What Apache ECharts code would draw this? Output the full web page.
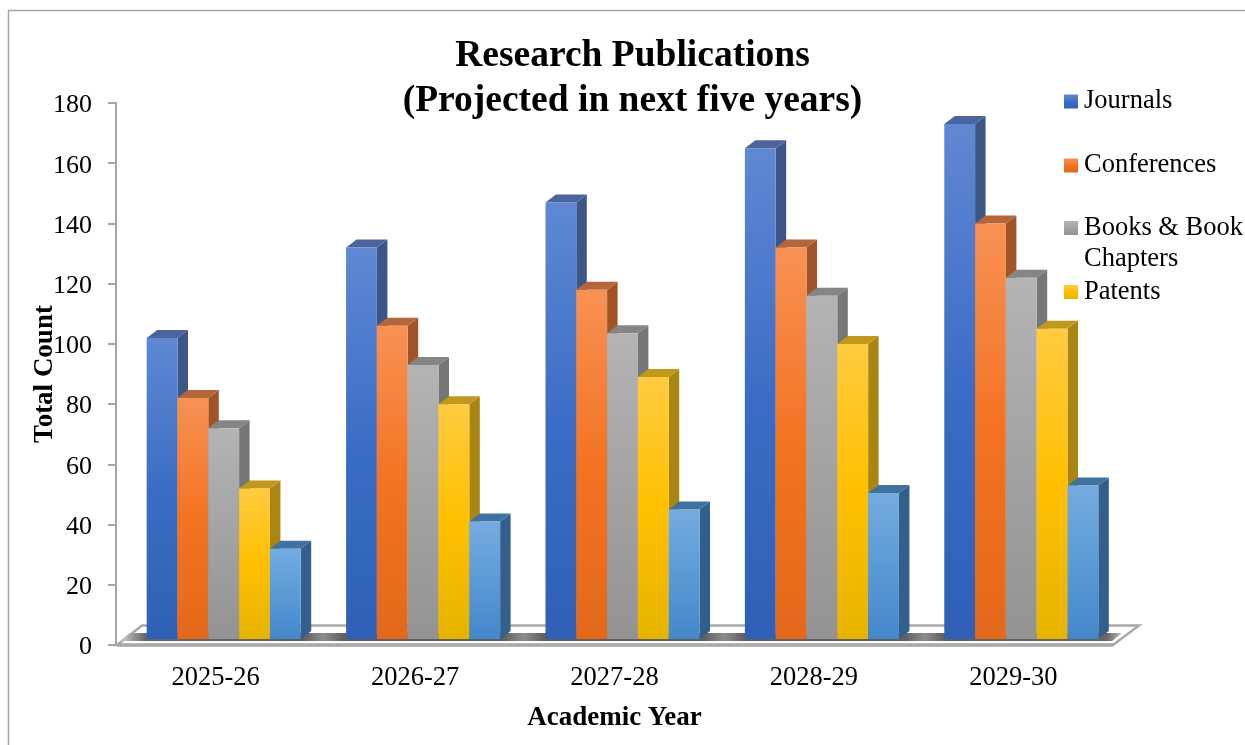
<!DOCTYPE html>
<html><head><meta charset="utf-8">
<style>html,body{margin:0;padding:0;background:#fff}#c{width:1245px;height:745px}</style>
<script src="https://cdn.jsdelivr.net/npm/echarts@6/dist/echarts.min.js"></script>
</head><body><div id="c"></div>
<script>
const categories = ['2025-26','2026-27','2027-28','2028-29','2029-30'];
const journals = [100,130,145,163,171];
const conferences = [80,104,116,130,138];
const books = [70,91,101.5,114,120];
const patents = [50,78,87,98,103];
const others = [30,39,43,48.5,51];
const yTicks = {min:0,max:180,interval:20};

const FONT = '"Liberation Serif","Times New Roman",serif';
const palettes = [
 {name:'Journals',data:journals,g:['#6088D2','#3C6DC6','#2F60B6'],side:'#3C5688',top:'#4A659E'},
 {name:'Conferences',data:conferences,g:['#F89155','#F37321','#E2691A'],side:'#A05428',top:'#B5653A'},
 {name:'Books & Book Chapters',data:books,g:['#B4B4B4','#A3A3A3','#939393'],side:'#767676',top:'#858585'},
 {name:'Patents',data:patents,g:['#FFCB40','#FFC000','#E6B400'],side:'#A98612',top:'#C0981C'},
 {name:'Others',data:others,g:['#75ABE0','#5B9BD5','#4487CA'],side:'#335F8C',top:'#40719F'}
];
const grad = c => new echarts.graphic.LinearGradient(0,0,0,1,[{offset:0,color:c[0]},{offset:.5,color:c[1]},{offset:1,color:c[2]}]);
const DX=10.5, DY=8, LIFT=6, SHIFT=8;

const shadowStops=[{offset:0,color:'#cfcfcf'},{offset:.025,color:'#666'}];
[1,2,3,4].forEach(k=>{
 const c=k*.2+.003;
 shadowStops.push({offset:c-.02,color:'#5f5f5f'},{offset:c,color:'#8c8c8c'},{offset:c+.02,color:'#5f5f5f'});
});
shadowStops.push({offset:.985,color:'#666'},{offset:1,color:'#bdbdbd'});

const floorSeries = {
 type:'custom',name:'floor',silent:true,z:1,coordinateSystem:'cartesian2d',clip:false,
 legendHoverLink:false,data:[[0,0]],
 renderItem(p,api){
  const r=p.coordSys,L=r.x,R=r.x+r.width,B=r.y+r.height;
  return {type:'group',children:[
   {type:'polygon',shape:{points:[[L+1,B],[L+26,B-19.5],[R+26,B-19.5],[R,B]]},style:{fill:'#fff',stroke:'#a9a9a9',lineWidth:2.5}},
   {type:'polygon',shape:{points:[[L+4,B-4],[L+14,B-12],[R+9,B-12],[R-1,B-4]]},style:{fill:new echarts.graphic.LinearGradient(0,0,1,0,shadowStops)}},
   {type:'line',shape:{x1:L+1,y1:B,x2:R,y2:B},style:{stroke:'#a9a9a9',lineWidth:3.5}}
  ]};
 }
};
const barSeries = palettes.map((s,i)=>({
 type:'custom',name:s.name,z:2,clip:false,coordinateSystem:'cartesian2d',
 itemStyle:{color:grad(s.g)},encode:{x:0,y:1},
 data:s.data.map((v,k)=>[categories[k],v]),
 renderItem(p,api){
  const top=api.coord([api.value(0),api.value(1)]);
  const base=api.coord([api.value(0),0]);
  const w=api.size([1,0])[0]*0.1545;
  const x0=top[0]+SHIFT+(i-2.5)*w,x1=x0+w,y0=top[1]-LIFT,y1=base[1]-LIFT;
  return {type:'group',children:[
   {type:'polygon',shape:{points:[[x1,y0],[x1+DX,y0-DY],[x1+DX,y1-DY],[x1,y1]]},style:{fill:s.side}},
   {type:'polygon',shape:{points:[[x0,y0],[x0+DX,y0-DY],[x1+DX,y0-DY],[x1,y0]]},style:{fill:s.top}},
   {type:'rect',shape:{x:x0,y:y0,width:w,height:y1-y0},style:{fill:grad(s.g)}}
  ]};
 }
}));
const legendAt=(name,top)=>({show:true,orient:'vertical',left:1059,top,data:[name],icon:'rect',itemWidth:14,itemHeight:14,selectedMode:false,
 textStyle:{fontFamily:FONT,fontSize:26.5,color:'#000',padding:[0,0,0,1]},
 formatter:n=>n==='Books & Book Chapters'?'Books & Book':n});

const chart=echarts.init(document.getElementById('c'),null,{renderer:'canvas'});
chart.setOption({
 animation:false,backgroundColor:'#fff',
 title:{text:'Research Publications\n(Projected in next five years)',left:627.5,top:29,textAlign:'center',
  textStyle:{fontFamily:FONT,fontSize:37.5,fontWeight:'bold',color:'#000',lineHeight:45}},
 grid:{left:116,right:132,top:103,bottom:100,outerBoundsMode:'none'},
 xAxis:{type:'category',data:categories,name:'Academic Year',nameLocation:'middle',nameGap:60,nameMoveOverlap:false,
  nameTextStyle:{fontFamily:FONT,fontSize:27,fontWeight:'bold',color:'#000'},
  axisLine:{show:false},axisTick:{show:false},
  axisLabel:{fontFamily:FONT,fontSize:26.5,color:'#000',margin:20}},
 yAxis:{type:'value',min:yTicks.min,max:yTicks.max,interval:yTicks.interval,name:'Total Count',nameLocation:'middle',nameGap:57,nameMoveOverlap:false,
  nameTextStyle:{fontFamily:FONT,fontSize:27,fontWeight:'bold',color:'#000'},
  axisLine:{show:true,lineStyle:{color:'#a6a6a6',width:2}},axisTick:{show:true,length:8,lineStyle:{color:'#a6a6a6',width:2}},
  axisLabel:{fontFamily:FONT,fontSize:26,color:'#000',margin:24,verticalAlign:'top',lineHeight:5},splitLine:{show:false}},
 legend:[legendAt('Journals',83),legendAt('Conferences',147),legendAt('Books & Book Chapters',209.5),legendAt('Patents',273.5)],
 graphic:[
  {type:'polyline',silent:true,shape:{points:[[8.5,760],[8.5,10.5],[1260,10.5]]},style:{fill:null,stroke:'#a6a6a6',lineWidth:1.5}},
  {type:'text',silent:true,left:1084,top:246,style:{text:'Chapters',font:'26.5px '+FONT,fill:'#000'}}
 ],
 series:[floorSeries,...barSeries]
});
</script></body></html>
